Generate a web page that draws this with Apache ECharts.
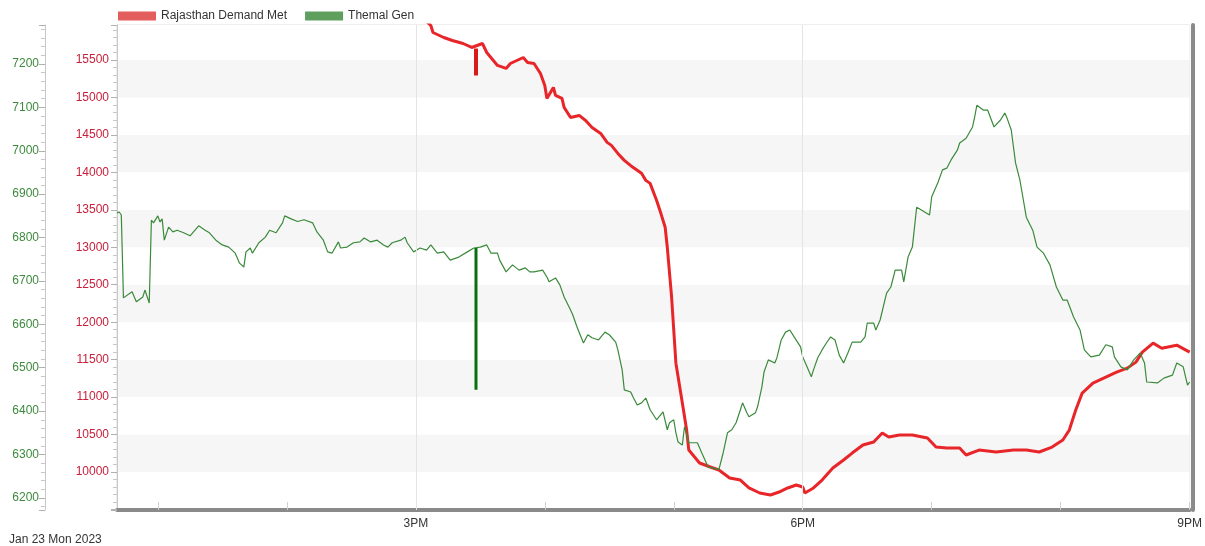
<!DOCTYPE html>
<html>
<head>
<meta charset="utf-8">
<script src="https://cdn.jsdelivr.net/npm/echarts@6/dist/echarts.min.js"></script>
<style>html,body{margin:0;padding:0;background:#fff;}#c{width:1205px;height:546px;}</style>
</head>
<body>
<div id="c"></div>
<script>
// Time in minutes after 12:00 noon, Jan 23 2023
const xTickMinutes = [180, 360, 540];
const xTickLabels = ['3PM', '6PM', '9PM'];
const hourMinutes = [60, 120, 180, 240, 300, 360, 420, 480, 540];
const demandTickLabels = [10000, 10500, 11000, 11500, 12000, 12500, 13000, 13500, 14000, 14500, 15000, 15500];
const thermalTickLabels = [6200, 6300, 6400, 6500, 6600, 6700, 6800, 6900, 7000, 7100, 7200];

const demandMinutes = [184,187,188,193,197,202,206,211,213,218,222,224,227,230,232,235,238,240,241,244,245,248,249,252,256,259,262,266,269,271,274,277,281,285,287,289,292,294,296,297,299,301,304,306,307,312,317,321,326,331,335,340,345,349,353,357,360,361,365,369,374,379,383,388,393,397,400,405,411,418,422,427,433,436,442,450,458,464,470,476,481,484,487,490,495,501,506,511,515,518,523,527,534,540];
const demandValues = [16040,15960,15867,15800,15760,15720,15667,15720,15600,15427,15387,15453,15493,15533,15467,15453,15320,15160,14987,15133,15027,14987,14867,14733,14760,14693,14600,14520,14400,14360,14253,14160,14067,13987,13893,13853,13627,13453,13267,13000,12333,11453,10920,10560,10293,10120,10067,10027,9920,9893,9787,9720,9693,9733,9787,9827,9800,9720,9787,9893,10053,10160,10253,10360,10400,10520,10467,10493,10493,10453,10333,10320,10320,10227,10293,10267,10293,10293,10267,10333,10427,10560,10827,11053,11187,11267,11333,11387,11467,11600,11720,11653,11693,11600];

const thermalMinutes = [41,42,43,44,48,50,53,54,56,57,58,60,61,62,63,65,67,69,72,75,79,82,84,87,90,93,96,98,100,101,103,104,107,110,112,115,118,119,122,125,128,132,134,137,139,141,144,145,148,151,154,156,159,162,165,167,169,173,175,176,179,182,185,187,190,193,196,200,204,207,210,213,215,218,219,222,225,228,231,233,235,239,241,242,245,247,249,252,253,255,258,260,262,265,268,270,273,274,276,277,280,281,283,285,287,289,292,295,297,298,300,301,302,304,305,307,309,311,313,316,318,321,323,325,327,329,331,332,334,335,338,339,341,342,344,347,348,350,352,354,356,359,360,362,364,365,367,369,371,373,375,377,379,381,383,387,389,390,393,394,396,399,401,403,406,407,409,411,413,415,419,420,423,425,427,429,432,433,436,439,440,441,444,446,449,452,454,455,457,459,461,462,464,467,469,472,475,478,481,483,486,489,491,494,498,501,504,505,508,511,514,517,519,520,525,528,532,534,537,539,540];
const thermalValues = [6857,6859,6852,6661,6675,6652,6663,6679,6649,6840,6834,6850,6836,6843,6794,6824,6813,6817,6811,6804,6827,6817,6811,6794,6783,6778,6764,6741,6732,6767,6776,6764,6788,6801,6817,6811,6834,6850,6843,6837,6841,6834,6813,6794,6767,6764,6790,6776,6778,6788,6790,6799,6790,6794,6783,6778,6788,6794,6801,6788,6767,6776,6771,6783,6764,6767,6748,6755,6767,6776,6778,6783,6764,6764,6748,6721,6737,6725,6730,6721,6721,6725,6709,6698,6707,6691,6663,6633,6622,6594,6557,6576,6569,6564,6582,6576,6559,6541,6495,6449,6444,6433,6414,6419,6430,6403,6380,6398,6357,6373,6380,6350,6329,6322,6364,6327,6327,6327,6304,6271,6269,6265,6304,6350,6357,6373,6403,6419,6396,6387,6396,6410,6456,6490,6518,6511,6523,6564,6582,6587,6571,6548,6525,6502,6479,6495,6523,6541,6557,6571,6564,6529,6511,6534,6559,6559,6571,6603,6603,6587,6610,6672,6686,6725,6725,6698,6755,6778,6870,6864,6852,6894,6928,6956,6960,6979,7002,7018,7029,7055,7078,7105,7094,7094,7055,7071,7087,7076,7048,6972,6933,6905,6847,6817,6778,6764,6737,6686,6656,6656,6617,6587,6541,6525,6529,6553,6548,6525,6502,6495,6518,6534,6511,6467,6465,6476,6483,6511,6502,6460,6467];

// Single-sample dropouts at ~3:28 PM
const glitchMinute = 208;
const demandGlitch = [15653, 15293];
const thermalGlitch = [6776, 6449];

const zip = (xs, ys) => xs.map((x, i) => [x, ys[i]]);
const FONT = 'Liberation Sans, Arial, sans-serif';
const listLabel = list => v => (list.some(t => Math.abs(t - v) < 1e-6) ? String(Math.round(v)) : '');

const chart = echarts.init(document.getElementById('c'), null, {renderer: 'canvas'});
chart.setOption({
  animation: false,
  backgroundColor: '#ffffff',
  textStyle: {fontFamily: FONT},
  title: {
    text: 'Jan 23 Mon 2023', left: 4, top: 529,
    textStyle: {fontSize: 12, fontWeight: 'normal', color: '#333', fontFamily: FONT}
  },
  legend: {
    left: 113, top: 5, itemWidth: 38, itemHeight: 9, itemGap: 18, icon: 'rect',
    textStyle: {fontSize: 12, color: '#333', fontFamily: FONT},
    data: [
      {name: 'Rajasthan Demand Met', itemStyle: {color: '#e35d5d'}},
      {name: 'Themal Gen', itemStyle: {color: '#5e9f5e'}}
    ]
  },
  grid: {left: 117, right: 15, top: 25, bottom: 36, show: true, borderColor: '#dcdcdc', borderWidth: 1, backgroundColor: 'transparent'},
  xAxis: {
    type: 'value', min: 41, max: 540,
    axisLine: {show: true, onZero: false, lineStyle: {color: '#8a8a8a', width: 4}},
    axisTick: {show: true, inside: true, length: 8, customValues: hourMinutes, lineStyle: {color: '#cfcfcf'}},
    axisLabel: {
      customValues: xTickMinutes, color: '#333', fontSize: 12, margin: 8, fontFamily: FONT,
      formatter: v => xTickLabels[xTickMinutes.indexOf(v)] || ''
    },
    splitLine: {show: false}
  },
  yAxis: [
    {
      type: 'value', position: 'left', offset: 0, min: 9493, max: 15967, splitNumber: 13,
      axisLine: {show: true, lineStyle: {color: '#c8c8c8'}},
      axisTick: {show: true, length: 6, lineStyle: {color: '#b0b0b0'}},
      minorTick: {show: true, splitNumber: 5, length: 4, lineStyle: {color: '#c8c8c8'}},
      axisLabel: {color: '#c8203c', fontSize: 12, margin: 8, showMinLabel: false, showMaxLabel: false, fontFamily: FONT, formatter: listLabel(demandTickLabels)},
      splitLine: {show: false},
      splitArea: {show: true, areaStyle: {color: ['#f6f6f6', '#ffffff']}}
    },
    {
      type: 'value', position: 'left', offset: 72, min: 6172, max: 7290, splitNumber: 11,
      axisLine: {show: true, lineStyle: {color: '#c8c8c8'}},
      axisTick: {show: true, length: 6, lineStyle: {color: '#b0b0b0'}},
      minorTick: {show: true, splitNumber: 5, length: 4, lineStyle: {color: '#c8c8c8'}},
      axisLabel: {color: '#3d8a3d', fontSize: 12, margin: 6, showMinLabel: false, showMaxLabel: false, fontFamily: FONT, formatter: listLabel(thermalTickLabels)},
      splitLine: {show: false},
      splitArea: {show: false}
    },
    {
      type: 'value', position: 'right', offset: 3, min: 0, max: 1,
      axisLine: {show: true, lineStyle: {color: '#8a8a8a', width: 4}},
      axisTick: {show: false}, axisLabel: {show: false},
      splitLine: {show: false}, splitArea: {show: false}
    }
  ],
  series: [
    {
      name: 'Rajasthan Demand Met', type: 'line', yAxisIndex: 0, showSymbol: false, symbol: 'none',
      clip: true, z: 3,
      lineStyle: {color: '#e8262a', width: 3},
      itemStyle: {color: '#e35d5d'},
      data: zip(demandMinutes, demandValues),
      markLine: {
        silent: true, symbol: 'none', label: {show: false},
        lineStyle: {color: '#e4e4e4', width: 1, type: 'solid'},
        data: xTickMinutes.slice(0, 2).map(m => ({xAxis: m}))
      }
    },
    {
      name: 'Themal Gen', type: 'line', yAxisIndex: 1, showSymbol: false, symbol: 'none',
      clip: true, z: 4,
      lineStyle: {color: '#3b8a3b', width: 1.2},
      itemStyle: {color: '#5e9f5e'},
      data: zip(thermalMinutes, thermalValues)
    },
    {
      name: 'demandGlitch', type: 'line', yAxisIndex: 0, showSymbol: false, symbol: 'none', z: 3,
      lineStyle: {color: '#d81a1a', width: 4}, tooltip: {show: false},
      data: demandGlitch.map(v => [glitchMinute, v])
    },
    {
      name: 'thermalGlitch', type: 'line', yAxisIndex: 1, showSymbol: false, symbol: 'none', z: 4,
      lineStyle: {color: '#0b700b', width: 3}, tooltip: {show: false},
      data: thermalGlitch.map(v => [glitchMinute, v])
    }
  ]
});
</script>
</body>
</html>
